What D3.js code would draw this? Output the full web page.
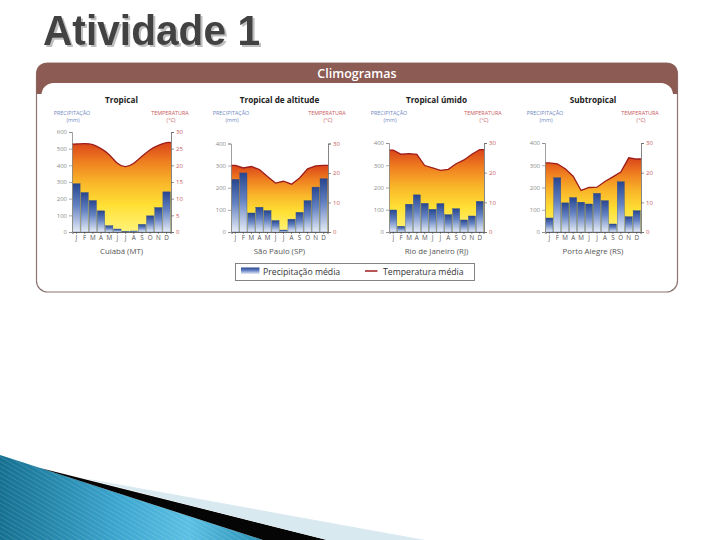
<!DOCTYPE html>
<html><head><meta charset="utf-8">
<script src="https://cdn.jsdelivr.net/npm/d3@7"></script>
<style>body{margin:0;background:#fff}svg{display:block}</style>
</head><body>
<svg id="c" width="720" height="540"></svg>
<script>
// ---------- data ----------
const pageTitle = "Atividade 1";
const headerTitle = "Climogramas";
const months = ["J","F","M","A","M","J","J","A","S","O","N","D"];
const panelTitles = ["Tropical","Tropical de altitude","Tropical úmido","Subtropical"];
const cities = ["Cuiabá (MT)","São Paulo (SP)","Rio de Janeiro (RJ)","Porto Alegre (RS)"];
const precipCuiaba   = [290,237,189,127,38,18,4,6,46,97,147,241];
const tempCuiaba     = [26.4,26.5,26.2,25.0,23.2,20.6,19.6,20.6,22.7,24.7,26.0,26.8];
const precipSaoPaulo = [238,267,86,112,97,52,9,58,89,142,203,241];
const tempSaoPaulo   = [22.6,21.7,22.2,21.2,18.8,16.6,17.2,16.2,18.3,21.4,22.4,22.6];
const precipRio      = [99,26,125,167,129,102,128,78,105,54,72,138];
const tempRio        = [27.6,26.2,26.4,26.2,22.4,21.6,20.8,21.1,23.0,24.3,26.2,27.8];
const precipPortoAlegre = [63,244,131,155,134,126,174,141,36,226,69,96];
const tempPortoAlegre   = [23.3,23.0,21.3,18.8,14.0,15.0,15.1,17.0,18.6,20.2,25.0,24.6];
const precipMax = [600,400,400,400];
const tempMax = 30;
const precipTicksTropical = [0,100,200,300,400,500,600];
const precipTicksOther = [0,100,200,300,400];
const tempTicksTropical = [0,5,10,15,20,25,30];
const tempTicksOther = [0,10,20,30];
const legendLabels = ["Precipitação média","Temperatura média"];

const precipSeries = [precipCuiaba, precipSaoPaulo, precipRio, precipPortoAlegre];
const tempSeries = [tempCuiaba, tempSaoPaulo, tempRio, tempPortoAlegre];
const precipTicks = [precipTicksTropical, precipTicksOther, precipTicksOther, precipTicksOther];
const tempTicks = [tempTicksTropical, tempTicksOther, tempTicksOther, tempTicksOther];

// ---------- layout ----------
const svg = d3.select("#c");
const FONT = "'Open Sans', 'DejaVu Sans', sans-serif";
const defs = svg.append("defs");

const barGrad = defs.append("linearGradient").attr("id","barGrad").attr("x1",0).attr("y1",0).attr("x2",0).attr("y2",1);
[[0,"#27468f"],[0.45,"#6482c2"],[1,"#e6ecf7"]].forEach(s=>barGrad.append("stop").attr("offset",s[0]).attr("stop-color",s[1]));
const areaGrad = defs.append("linearGradient").attr("id","areaGrad").attr("x1",0).attr("y1",0).attr("x2",0).attr("y2",1);
[[0,"#d9441b"],[0.2,"#ee7b1f"],[0.45,"#f9b62a"],[0.7,"#ffe034"],[1,"#fff37c"]].forEach(s=>areaGrad.append("stop").attr("offset",s[0]).attr("stop-color",s[1]));
const decoGrad = defs.append("linearGradient").attr("id","decoGrad").attr("gradientUnits","userSpaceOnUse")
  .attr("x1",0).attr("y1",0).attr("x2",263).attr("y2",0);
[[0,"#157090"],[0.45,"#3ca6cf"],[0.72,"#5bc0e3"],[1,"#2a90b6"]].forEach(s=>decoGrad.append("stop").attr("offset",s[0]).attr("stop-color",s[1]));
const stripes = defs.append("pattern").attr("id","stripes").attr("patternUnits","userSpaceOnUse")
  .attr("width",4).attr("height",4).attr("patternTransform","rotate(-60)");
stripes.append("rect").attr("width",1).attr("height",4).attr("fill","#ffffff").attr("opacity",0.12);
const shadow = defs.append("filter").attr("id","shadow").attr("x","-5%").attr("y","-10%").attr("width","115%").attr("height","130%");
shadow.append("feDropShadow").attr("dx",2).attr("dy",2).attr("stdDeviation",0.7).attr("flood-color","#b8b8b8").attr("flood-opacity",0.9);

// page title
svg.append("text").attr("x",43).attr("y",45).attr("font-family","'Liberation Sans', Arial, sans-serif")
  .attr("font-weight","bold").attr("font-size",43).attr("fill","#424242").attr("filter","url(#shadow)")
  .attr("textLength",217).attr("lengthAdjust","spacingAndGlyphs").text(pageTitle);

// frame
svg.append("rect").attr("x",36.5).attr("y",63).attr("width",641).attr("height",229).attr("rx",11)
  .attr("fill","#fff").attr("stroke","#8c7472").attr("stroke-width",1.2);
svg.append("path").attr("d","M36.5,94 L36.5,74 Q36.5,63 47.5,63 L666.5,63 Q677.5,63 677.5,74 L677.5,94 Z").attr("fill","#8c5b53");
svg.append("rect").attr("x",41.5).attr("y",83).attr("width",631.5).attr("height",30).attr("rx",12).attr("fill","#fff");
svg.append("rect").attr("x",41.5).attr("y",100).attr("width",631.5).attr("height",180).attr("fill","#fff");
svg.append("text").attr("x",357).attr("y",78).attr("text-anchor","middle").attr("font-family",FONT)
  .attr("font-weight",600).attr("font-size",12.5).attr("fill","#fff").text(headerTitle);

// panels
const lefts = [72,231,389,545], rights = [171,328,484,641], tops = [132,143.5,143,143];
const B = 232;
const curves = [d3.curveNatural, d3.curveLinear, d3.curveLinear, d3.curveLinear];

for (let i = 0; i < 4; i++) {
  const L = lefts[i], R = rights[i], T = tops[i];
  const g = svg.append("g");
  const x = d3.scaleBand().domain(d3.range(12)).range([L+0.5, R-0.5]).paddingInner(0.1).paddingOuter(0.03);
  const yP = d3.scaleLinear().domain([0, precipMax[i]]).range([B, T]);
  const yT = d3.scaleLinear().domain([0, tempMax]).range([B, T]);
  const temps = tempSeries[i];
  const pts = [{x: L, t: temps[0]}]
    .concat(temps.map((t, k) => ({x: x(k) + x.bandwidth()/2, t})))
    .concat([{x: R, t: temps[11]}]);

  // titles
  const cx = (L + R) / 2;
  g.append("text").attr("x",cx).attr("y",103).attr("text-anchor","middle").attr("font-family",FONT)
    .attr("font-weight","bold").attr("font-size",8.2).attr("fill","#222").text(panelTitles[i]);
  g.append("text").attr("x",L).attr("y",115).attr("text-anchor","middle").attr("font-family",FONT)
    .attr("font-size",5.4).attr("fill","#6f88c0").text("PRECIPITAÇÃO");
  g.append("text").attr("x",L+1).attr("y",121.5).attr("text-anchor","middle").attr("font-family",FONT)
    .attr("font-size",5.4).attr("fill","#6f88c0").text("(mm)");
  g.append("text").attr("x",R-1).attr("y",115).attr("text-anchor","middle").attr("font-family",FONT)
    .attr("font-size",5.4).attr("fill","#c8585a").text("TEMPERATURA");
  g.append("text").attr("x",R).attr("y",121.5).attr("text-anchor","middle").attr("font-family",FONT)
    .attr("font-size",5.4).attr("fill","#c8585a").text("(°C)");

  // temperature area
  g.append("path").datum(pts).attr("fill","url(#areaGrad)")
    .attr("d", d3.area().x(d=>d.x).y0(B).y1(d=>yT(d.t)).curve(curves[i]));

  // bars
  g.selectAll("rect.bar").data(precipSeries[i]).join("rect").attr("class","bar")
    .attr("x",(d,k)=>x(k)).attr("width",x.bandwidth())
    .attr("y",d=>yP(d)).attr("height",d=>B-yP(d))
    .attr("fill","url(#barGrad)").attr("stroke","#2f4d8e").attr("stroke-width",0.35);

  // temperature line
  g.append("path").datum(pts).attr("fill","none").attr("stroke","#9d1c1a").attr("stroke-width",1.3)
    .attr("d", d3.line().x(d=>d.x).y(d=>yT(d.t)).curve(curves[i]));

  // axes
  const ax = g.append("g").attr("transform",`translate(${L},0)`)
    .call(d3.axisLeft(yP).tickValues(precipTicks[i]).tickSize(3).tickPadding(2));
  ax.select(".domain").attr("stroke","#888").attr("stroke-width",0.8);
  ax.selectAll(".tick line").attr("stroke","#888").attr("stroke-width",0.7);
  ax.selectAll(".tick text").attr("font-family",FONT).attr("font-size",6).attr("fill","#8a8a8a");

  const ar = g.append("g").attr("transform",`translate(${R},0)`)
    .call(d3.axisRight(yT).tickValues(tempTicks[i]).tickSize(3).tickPadding(2));
  ar.select(".domain").attr("stroke","#666").attr("stroke-width",0.8);
  ar.selectAll(".tick line").attr("stroke","#666").attr("stroke-width",0.7);
  ar.selectAll(".tick text").attr("font-family",FONT).attr("font-size",6).attr("fill","#c8585a");

  const axb = g.append("g").attr("transform",`translate(0,${B})`)
    .call(d3.axisBottom(x).tickFormat(k=>months[k]).tickSize(2).tickPadding(1.5));
  axb.select(".domain").attr("stroke","#444").attr("stroke-width",0.8);
  axb.selectAll(".tick line").attr("stroke","#444").attr("stroke-width",0.6);
  axb.selectAll(".tick text").attr("font-family",FONT).attr("font-size",6.3).attr("fill","#555");

  g.append("text").attr("x",cx).attr("y",253.5).attr("text-anchor","middle").attr("font-family",FONT)
    .attr("font-size",7.8).attr("fill","#555").text(cities[i]);
}

// legend
const lg = svg.append("g");
lg.append("rect").attr("x",235.5).attr("y",263.5).attr("width",239).attr("height",17)
  .attr("fill","#fff").attr("stroke","#777").attr("stroke-width",0.9);
lg.append("rect").attr("x",241).attr("y",267.5).attr("width",18.5).attr("height",6.5).attr("fill","url(#barGrad)");
lg.append("text").attr("x",263).attr("y",275).attr("font-family",FONT).attr("font-size",8.7).attr("fill","#333").text(legendLabels[0]);
lg.append("line").attr("x1",365).attr("x2",377.5).attr("y1",271).attr("y2",271).attr("stroke","#a01c1c").attr("stroke-width",1.5);
lg.append("text").attr("x",383).attr("y",275).attr("font-family",FONT).attr("font-size",8.7).attr("fill","#333").text(legendLabels[1]);

// decoration bottom-left
svg.append("path").attr("d","M0,455 L263,540 L0,540 Z").attr("fill","url(#decoGrad)");
svg.append("path").attr("d","M0,455 L263,540 L0,540 Z").attr("fill","url(#stripes)");
svg.append("path").attr("d","M40,468 L327,540 L263,540 Z").attr("fill","#050505");
svg.append("path").attr("d","M83,478 L425,540 L327,540 Z").attr("fill","#d8e9f0");
</script>
</body></html>
